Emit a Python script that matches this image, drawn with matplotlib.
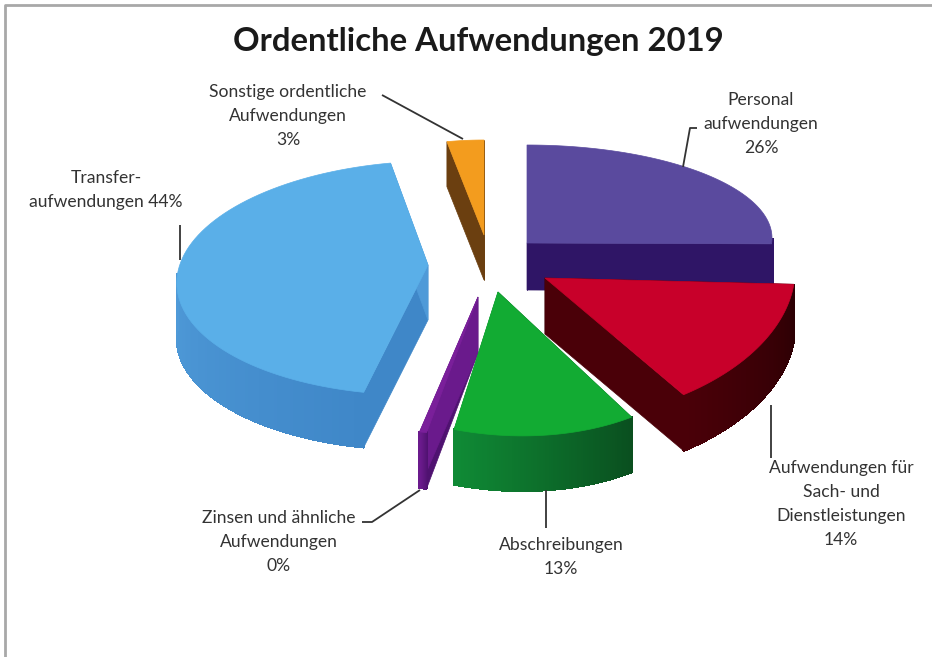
import numpy as np
import matplotlib
matplotlib.use("Agg")
import matplotlib.pyplot as plt
from matplotlib.colors import to_rgb
from matplotlib.patches import Polygon

# data
categories = ["Personal\naufwendungen", "Aufwendungen für\nSach- und\nDienstleistungen", "Abschreibungen",
              "Zinsen und ähnliche\nAufwendungen", "Transfer-\naufwendungen", "Sonstige ordentliche\nAufwendungen"]
values = [26, 14, 13, 0.4, 43.6, 3]

# look of each slice: apex, ellipse centre, radii, shear, height, colours
slice_style = [
    dict(apex=(527, 243), centre=(527, 238), r=(245, 93), shear=(0, 0), depth=47,
         top="#5a4a9e", side=("#2f1566", "#2f1566")),
    dict(apex=(545, 278), centre=(545, 275), r=(250, 148), shear=(-0.07, 0), depth=56,
         top="#c8002a", side=("#4a0008", "#2c0004")),
    dict(apex=(498, 292), centre=(497, 292), r=(229, 143), shear=(0, 0.07), depth=55,
         top="#12ab33", side=("#0f8a35", "#0a4f1f")),
    dict(apex=(478, 297), centre=(480, 298), r=(285, 137), shear=(0, 0), depth=56,
         top="#7a1f9a", side=("#6a1a8c", "#4f1270")),
    dict(apex=(428, 265), centre=(427, 278), r=(250, 117), shear=(-0.09, 0), depth=55,
         top="#5aafe8", side=("#4f9ad8", "#3f87c8")),
    dict(apex=(484, 235), centre=(484, 235), r=(198, 95), shear=(0, 0), depth=45,
         top="#f39c1e", side=("#6b3f10", "#6b3f10")),
]
draw_order = [5, 0, 4, 3, 1, 2]

plt.rcParams["font.family"] = ["Lato", "DejaVu Sans"]
fig = plt.figure(figsize=(9.32, 6.57), dpi=100)
ax = fig.add_axes([0, 0, 1, 1])
ax.set_xlim(0, 932)
ax.set_ylim(657, 0)
ax.axis("off")


def arc(s, a0, a1, n=80):
    t = np.radians(np.linspace(a0, a1, n))
    dx = s["r"][0] * np.sin(t)
    dy = -s["r"][1] * np.cos(t)
    x = s["centre"][0] + dx + s["shear"][0] * dy
    y = s["centre"][1] + dy + s["shear"][1] * dx
    return np.column_stack([x, y])


def draw_slice(s, a0, a1):
    pts = arc(s, a0, a1)
    apex = np.array(s["apex"], float)
    drop = np.array([0, s["depth"]])
    c0, c1 = np.array(to_rgb(s["side"][0])), np.array(to_rgb(s["side"][1]))
    # cut faces
    for edge, col in ((pts[0], s["side"][1]), (pts[-1], s["side"][0])):
        quad = [apex, edge, edge + drop, apex + drop]
        ax.add_patch(Polygon(quad, closed=True, fc=col, ec=col, lw=0.5))
    # outer wall, only the part facing us, shaded strip by strip
    lo, hi = max(a0, 90), min(a1, 272)
    if hi > lo:
        wall = arc(s, lo, hi, 90)
        for i in range(len(wall) - 1):
            f = i / (len(wall) - 2)
            # shade runs dark on the right to light on the left
            col = c1 * (1 - f) + c0 * f
            quad = [wall[i], wall[i + 1], wall[i + 1] + drop, wall[i] + drop]
            ax.add_patch(Polygon(quad, closed=True, fc=col, ec=col, lw=1, antialiased=False))
    ax.add_patch(Polygon(np.vstack([apex, pts]), closed=True, fc=s["top"], ec=s["top"], lw=0.5))


angles = np.concatenate([[0], np.cumsum(values)]) / sum(values) * 360
for i in draw_order:
    draw_slice(slice_style[i], angles[i], angles[i + 1])

# leader lines
line_kw = dict(color="#333333", lw=1.3, solid_capstyle="butt")
ax.plot([382, 463], [95, 139], **line_kw)
ax.plot([697, 690, 683], [128, 128, 167], **line_kw)
ax.plot([771, 771], [405, 458], **line_kw)
ax.plot([546, 546], [490, 528], **line_kw)
ax.plot([362, 372, 420], [522, 522, 490], **line_kw)
ax.plot([180, 180], [225, 260], **line_kw)

# labels
label_pos = [(761, 124), (841, 504), (561, 557), (279, 542), (106, 190), (288, 116)]
for name, v, (x, y) in zip(categories, values, label_pos):
    sep = " " if name.startswith("Transfer") else "\n"
    ax.text(x, y, f"{name}{sep}{v:.0f}%", ha="center", va="center", fontsize=12.6,
            color="#333333", linespacing=1.6)

ax.text(478, 42, "Ordentliche Aufwendungen 2019", ha="center", va="center", fontsize=23.7,
        fontweight="bold", color="#1a1a1a")

# frame of the chart, only left and top show
ax.plot([5, 5, 932], [657, 5, 5], color="#a8a8a8", lw=2)

fig.savefig("out.png", dpi=100)
